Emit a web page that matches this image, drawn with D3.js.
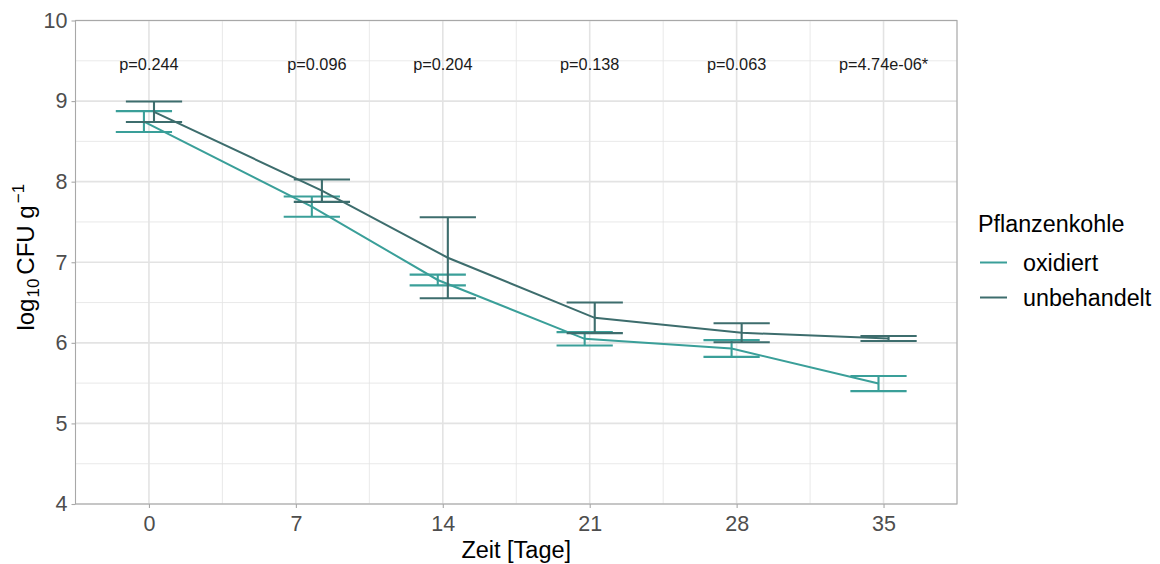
<!DOCTYPE html>
<html>
<head>
<meta charset="utf-8">
<script src="https://cdn.jsdelivr.net/npm/d3@7"></script>
<style>
  html, body { margin: 0; padding: 0; background: #ffffff; }
  svg { display: block; font-family: "Liberation Sans", Arial, sans-serif; }
</style>
</head>
<body>
<svg id="chart" width="1160" height="564"></svg>
<script>
// Sampling days and axis ticks
const days = [0, 8, 14, 21, 28, 35];
const tickDays = [0, 7, 14, 21, 28, 35];
const yTicks = [4, 5, 6, 7, 8, 9, 10];

// Mean log10 CFU per gram and standard error, per treatment
const oxidiertMean = [8.746, 7.69, 6.78, 6.05, 5.93, 5.495];
const oxidiertSE   = [0.13, 0.125, 0.067, 0.083, 0.104, 0.094];
const unbehandeltMean = [8.867, 7.888, 7.056, 6.31, 6.125, 6.054];
const unbehandeltSE   = [0.127, 0.139, 0.502, 0.19, 0.118, 0.031];

// p-values of the group comparison at each sampling day
const pLabels = ["p=0.244", "p=0.096", "p=0.204", "p=0.138", "p=0.063", "p=4.74e-06*"];

const groups = ["oxidiert", "unbehandelt"];
const groupColors = ["#3a9f99", "#3d6d6d"];

const series = [
  { name: groups[0], color: groupColors[0], mean: oxidiertMean, se: oxidiertSE, offset: -1 },
  { name: groups[1], color: groupColors[1], mean: unbehandeltMean, se: unbehandeltSE, offset: 1 }
];

const svg = d3.select("#chart");
const panel = { left: 75.5, right: 957, top: 20.5, bottom: 504 };

const x = d3.scaleLinear().domain([-3.5, 38.5]).range([panel.left, panel.right]);
const y = d3.scaleLinear().domain([4, 10]).range([panel.bottom, panel.top]);

const dodge = 0.24;     // half dodge distance, days
const capWidth = 2.68;  // error bar cap width, days

const gridColor = "#e3e3e3";
const g = svg.append("g");

// minor grid
const xMinor = d3.range(-3.5, 39, 7);
const yMinor = d3.range(4.5, 10, 1);
g.selectAll(".xminor").data(xMinor).join("line")
  .attr("x1", d => x(d)).attr("x2", d => x(d))
  .attr("y1", panel.top).attr("y2", panel.bottom)
  .attr("stroke", gridColor).attr("stroke-width", 0.8);
g.selectAll(".yminor").data(yMinor).join("line")
  .attr("x1", panel.left).attr("x2", panel.right)
  .attr("y1", d => y(d)).attr("y2", d => y(d))
  .attr("stroke", gridColor).attr("stroke-width", 0.8);

// major grid
g.selectAll(".xmajor").data(tickDays).join("line")
  .attr("x1", d => x(d)).attr("x2", d => x(d))
  .attr("y1", panel.top).attr("y2", panel.bottom)
  .attr("stroke", gridColor).attr("stroke-width", 1.6);
g.selectAll(".ymajor").data(yTicks).join("line")
  .attr("x1", panel.left).attr("x2", panel.right)
  .attr("y1", d => y(d)).attr("y2", d => y(d))
  .attr("stroke", gridColor).attr("stroke-width", 1.6);

// axes
const xAxis = svg.append("g")
  .attr("transform", `translate(0,${panel.bottom})`)
  .call(d3.axisBottom(x).tickValues(tickDays).tickFormat(d3.format("d")).tickSize(4).tickPadding(8));
const yAxis = svg.append("g")
  .attr("transform", `translate(${panel.left},0)`)
  .call(d3.axisLeft(y).tickValues(yTicks).tickFormat(d3.format("d")).tickSize(4).tickPadding(4));
[xAxis, yAxis].forEach(a => {
  a.select(".domain").remove();
  a.selectAll("line").attr("stroke", "#a8a8a8").attr("stroke-width", 1.1);
  a.selectAll("text").attr("fill", "#4d4d4d").attr("font-size", 21.5)
    .attr("font-family", "Liberation Sans, Arial, sans-serif");
});

// data layers
series.forEach(s => {
  const pts = days.map((d, i) => ({
    xd: d + s.offset * dodge, m: s.mean[i], lo: s.mean[i] - s.se[i], hi: s.mean[i] + s.se[i]
  }));
  const line = d3.line().x(p => x(p.xd)).y(p => y(p.m));
  g.append("path").datum(pts)
    .attr("d", line).attr("fill", "none")
    .attr("stroke", s.color).attr("stroke-width", 2);
  const eb = g.append("g").attr("stroke", s.color).attr("stroke-width", 2.1).attr("fill", "none");
  eb.selectAll(".v").data(pts).join("line")
    .attr("x1", p => x(p.xd)).attr("x2", p => x(p.xd))
    .attr("y1", p => y(p.lo)).attr("y2", p => y(p.hi));
  eb.selectAll(".t").data(pts).join("line")
    .attr("x1", p => x(p.xd - capWidth / 2)).attr("x2", p => x(p.xd + capWidth / 2))
    .attr("y1", p => y(p.hi)).attr("y2", p => y(p.hi));
  eb.selectAll(".b").data(pts).join("line")
    .attr("x1", p => x(p.xd - capWidth / 2)).attr("x2", p => x(p.xd + capWidth / 2))
    .attr("y1", p => y(p.lo)).attr("y2", p => y(p.lo));
});

// p-value annotations
g.selectAll(".plab").data(pLabels).join("text")
  .attr("x", (d, i) => x(days[i]))
  .attr("y", y(9.46))
  .attr("dy", "0.35em")
  .attr("text-anchor", "middle")
  .attr("font-size", 16.3)
  .attr("fill", "#1a1a1a")
  .text(d => d);

// panel border
svg.append("rect")
  .attr("x", panel.left).attr("y", panel.top)
  .attr("width", panel.right - panel.left).attr("height", panel.bottom - panel.top)
  .attr("fill", "none").attr("stroke", "#a8a8a8").attr("stroke-width", 1.1);

// axis titles
svg.append("text")
  .attr("x", (panel.left + panel.right) / 2).attr("y", 558)
  .attr("text-anchor", "middle").attr("font-size", 23.5).attr("fill", "#000")
  .text("Zeit [Tage]");

const yt = svg.append("text")
  .attr("transform", `translate(34,${(panel.top + panel.bottom) / 2 - 5}) rotate(-90)`)
  .attr("text-anchor", "middle").attr("font-size", 24).attr("fill", "#000");
yt.append("tspan").text("log");
yt.append("tspan").attr("font-size", 17).attr("dy", 5).attr("dx", 1).text("10");
yt.append("tspan").attr("dy", -5).attr("dx", 4).text("CFU g");
yt.append("tspan").attr("font-size", 17).attr("dy", -10).attr("dx", 2).text("−1");

// legend
const lg = svg.append("g").attr("transform", "translate(978,0)");
lg.append("text").attr("x", 0).attr("y", 232).attr("font-size", 23.3).attr("fill", "#000")
  .text("Pflanzenkohle");
const legendRows = [262.5, 297.5];
series.forEach((s, i) => {
  lg.append("line")
    .attr("x1", 2).attr("x2", 29)
    .attr("y1", legendRows[i]).attr("y2", legendRows[i])
    .attr("stroke", s.color).attr("stroke-width", 2);
  lg.append("text").attr("x", 45).attr("y", legendRows[i]).attr("dy", "0.35em")
    .attr("font-size", 23.3).attr("fill", "#000").text(s.name);
});
</script>
</body>
</html>
